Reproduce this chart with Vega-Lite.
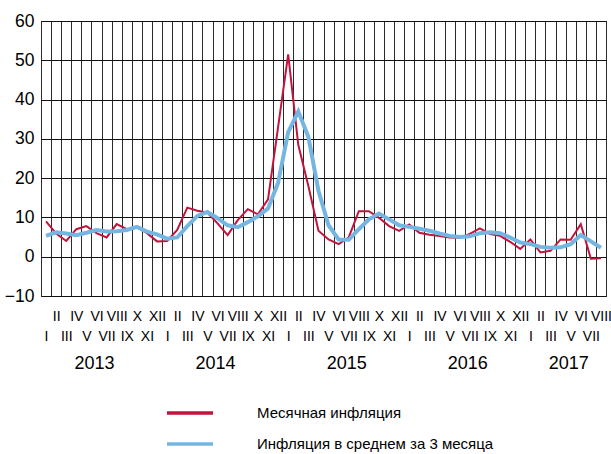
{
  "$schema": "https://vega.github.io/schema/vega-lite/v6.json",
  "width": 565,
  "height": 275,
  "autosize": {"type": "none"},
  "padding": {"left": 41, "top": 21, "right": 5, "bottom": 158},
  "background": "white",
  "config": {
    "font": "Liberation Sans",
    "view": {"stroke": "#222", "strokeWidth": 1}
  },
  "datasets": {
    "series": [
      {"m": "2013-01", "monthly": 9.0, "avg3": 5.3},
      {"m": "2013-02", "monthly": 5.9, "avg3": 6.2},
      {"m": "2013-03", "monthly": 4.0, "avg3": 5.9},
      {"m": "2013-04", "monthly": 7.0, "avg3": 5.5},
      {"m": "2013-05", "monthly": 7.8, "avg3": 6.1},
      {"m": "2013-06", "monthly": 6.0, "avg3": 6.8},
      {"m": "2013-07", "monthly": 4.9, "avg3": 6.4},
      {"m": "2013-08", "monthly": 8.3, "avg3": 6.5},
      {"m": "2013-09", "monthly": 7.0, "avg3": 6.8},
      {"m": "2013-10", "monthly": 7.5, "avg3": 7.6},
      {"m": "2013-11", "monthly": 6.0, "avg3": 6.4},
      {"m": "2013-12", "monthly": 3.9, "avg3": 5.7},
      {"m": "2014-01", "monthly": 4.0, "avg3": 4.6},
      {"m": "2014-02", "monthly": 6.8, "avg3": 4.9},
      {"m": "2014-03", "monthly": 12.5, "avg3": 7.8},
      {"m": "2014-04", "monthly": 11.7, "avg3": 10.4},
      {"m": "2014-05", "monthly": 11.2, "avg3": 11.4},
      {"m": "2014-06", "monthly": 8.5, "avg3": 9.8},
      {"m": "2014-07", "monthly": 5.5, "avg3": 8.0},
      {"m": "2014-08", "monthly": 9.3, "avg3": 7.5},
      {"m": "2014-09", "monthly": 12.1, "avg3": 8.8},
      {"m": "2014-10", "monthly": 10.8, "avg3": 10.3},
      {"m": "2014-11", "monthly": 14.6, "avg3": 12.3},
      {"m": "2014-12", "monthly": 33.0, "avg3": 18.8},
      {"m": "2015-01", "monthly": 51.5, "avg3": 31.7},
      {"m": "2015-02", "monthly": 28.5, "avg3": 37.0},
      {"m": "2015-03", "monthly": 18.0, "avg3": 30.5},
      {"m": "2015-04", "monthly": 6.6, "avg3": 16.8},
      {"m": "2015-05", "monthly": 4.4, "avg3": 8.0},
      {"m": "2015-06", "monthly": 3.2, "avg3": 4.4},
      {"m": "2015-07", "monthly": 4.9, "avg3": 4.3},
      {"m": "2015-08", "monthly": 11.6, "avg3": 7.0},
      {"m": "2015-09", "monthly": 11.6, "avg3": 9.5},
      {"m": "2015-10", "monthly": 9.9, "avg3": 11.0},
      {"m": "2015-11", "monthly": 7.8, "avg3": 9.5},
      {"m": "2015-12", "monthly": 6.6, "avg3": 8.0},
      {"m": "2016-01", "monthly": 8.2, "avg3": 7.6},
      {"m": "2016-02", "monthly": 6.1, "avg3": 7.1},
      {"m": "2016-03", "monthly": 5.6, "avg3": 6.6},
      {"m": "2016-04", "monthly": 5.3, "avg3": 5.9},
      {"m": "2016-05", "monthly": 4.9, "avg3": 5.3},
      {"m": "2016-06", "monthly": 4.8, "avg3": 5.0},
      {"m": "2016-07", "monthly": 5.8, "avg3": 5.2},
      {"m": "2016-08", "monthly": 7.2, "avg3": 6.0},
      {"m": "2016-09", "monthly": 5.8, "avg3": 6.2},
      {"m": "2016-10", "monthly": 5.3, "avg3": 6.0},
      {"m": "2016-11", "monthly": 3.8, "avg3": 4.9},
      {"m": "2016-12", "monthly": 2.0, "avg3": 3.6},
      {"m": "2017-01", "monthly": 4.4, "avg3": 3.2},
      {"m": "2017-02", "monthly": 1.1, "avg3": 2.5},
      {"m": "2017-03", "monthly": 1.5, "avg3": 2.3},
      {"m": "2017-04", "monthly": 4.4, "avg3": 2.4},
      {"m": "2017-05", "monthly": 4.3, "avg3": 3.2},
      {"m": "2017-06", "monthly": 8.3, "avg3": 5.5},
      {"m": "2017-07", "monthly": -0.5, "avg3": 3.9},
      {"m": "2017-08", "monthly": -0.4, "avg3": 2.3}
    ],
    "years": [
      {"m": "2013-06", "year": "2013"},
      {"m": "2014-06", "year": "2014"},
      {"m": "2015-07", "year": "2015"},
      {"m": "2016-07", "year": "2016"},
      {"m": "2017-05", "year": "2017"}
    ]
  },
  "layer": [
    {
      "data": {"name": "series"},
      "mark": {"type": "line", "strokeWidth": 2},
      "encoding": {
        "x": {
          "field": "m", "type": "ordinal",
          "scale": {"paddingInner": 0, "paddingOuter": 0},
          "axis": {
            "title": null, "orient": "bottom", "ticks": false, "domain": false,
            "grid": true, "tickBand": "extent", "gridColor": "#2a2a2a", "gridWidth": 1, "gridOpacity": 1,
            "labelExpr": "isValid(datum.value) ? ['I','II','III','IV','V','VI','VII','VIII','IX','X','XI','XII'][toNumber(slice(datum.value + '', 5)) - 1] : ''",
            "labelFontSize": 14, "labelLineHeight": 20.5,
            "labelBaseline": {"condition": {"test": "isValid(datum.value) && toNumber(slice(datum.value + '', 5)) % 2 == 0", "value": "line-bottom"}, "value": "line-top"},
            "labelPadding": 30.75, "labelOverlap": false, "labelAngle": 0, "labelBound": false,
            "labelColor": "black"
          }
        },
        "y": {
          "field": "monthly", "type": "quantitative",
          "scale": {"domain": [-10, 60], "nice": false, "zero": false},
          "axis": {
            "title": null, "values": [-10, 0, 10, 20, 30, 40, 50, 60], "tickCount": 20,
            "ticks": false, "domain": false, "grid": true, "gridColor": "#111", "gridWidth": 1.2, "gridOpacity": 1,
            "labelFontSize": 17.5, "labelPadding": 7, "labelColor": "black", "labelOverlap": false
          }
        },
        "color": {
          "datum": "Месячная инфляция", "type": "nominal",
          "scale": {"domain": ["Месячная инфляция", "Инфляция в среднем за 3 месяца"], "range": ["#c0143c", "#74b5e2"]},
          "legend": {
            "title": null, "orient": "none", "legendX": 137, "legendY": 380, "direction": "vertical",
            "symbolType": "M-2.3,0H2.3", "symbolSize": 400, "symbolStrokeWidth": 3.5,
            "labelFontSize": 15, "labelOffset": 55, "rowPadding": 11, "labelColor": "black", "labelLimit": 400
          }
        }
      }
    },
    {
      "data": {"name": "series"},
      "mark": {"type": "line", "strokeWidth": 4},
      "encoding": {
        "x": {"field": "m", "type": "ordinal"},
        "y": {"field": "avg3", "type": "quantitative"},
        "color": {"datum": "Инфляция в среднем за 3 месяца", "type": "nominal"}
      }
    },
    {
      "data": {"name": "years"},
      "mark": {"type": "text", "fontSize": 18, "baseline": "middle", "dx": -2, "clip": false, "color": "black"},
      "encoding": {
        "x": {"field": "m", "type": "ordinal"},
        "y": {"datum": -27.2, "type": "quantitative"},
        "text": {"field": "year"},
        "fontWeight": {"condition": {"test": "datum.year == '2017'", "value": "bold"}, "value": "normal"}
      }
    }
  ]
}
